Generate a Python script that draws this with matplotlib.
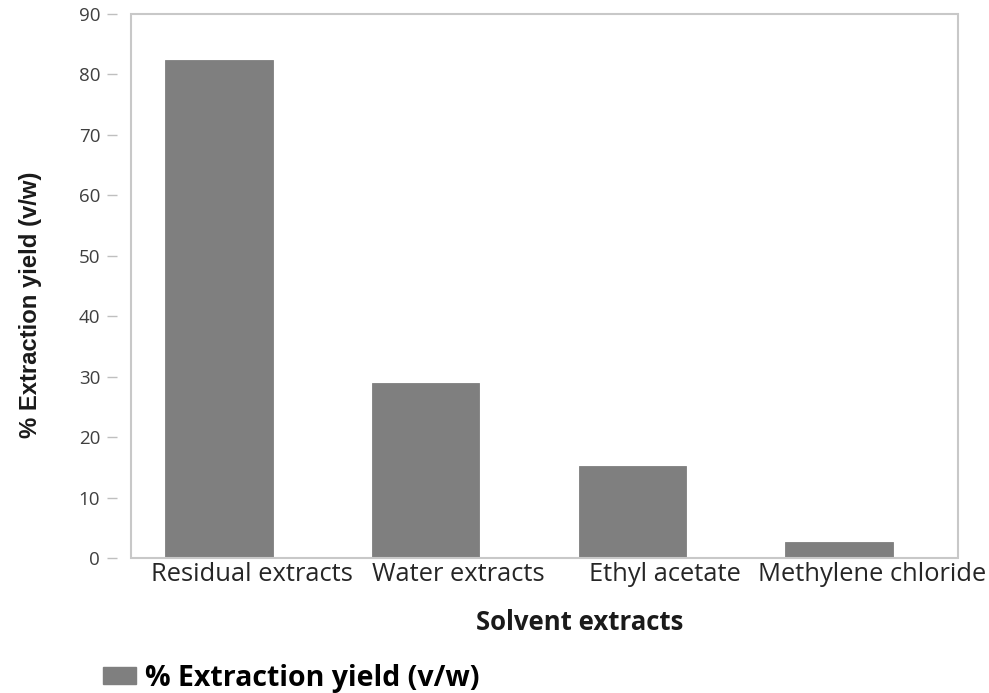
import matplotlib
matplotlib.use("Agg")
import matplotlib.pyplot as plt
from matplotlib.patches import Rectangle, Patch
from matplotlib.transforms import ScaledTranslation

categories = ["Residual extracts", "Water extracts", "Ethyl acetate", "Methylene chloride"]
yield_pct = [82.3, 28.9, 15.2, 2.6]
y_ticks = [0, 10, 20, 30, 40, 50, 60, 70, 80, 90]
series_name = "% Extraction yield (v/w)"

BAR_GRAY = "#7f7f7f"

fig = plt.figure(figsize=(9.89, 6.93), dpi=100)
ax = fig.add_axes([0.1325, 0.1948, 0.8362, 0.7857])

x = range(len(categories))
ax.bar(x, yield_pct, width=0.52, color=BAR_GRAY, edgecolor=BAR_GRAY, linewidth=0.6, zorder=2)

# y ticks sit apart from the frame: the left spine is pushed outward and hidden,
# and the plot frame is drawn as a separate rectangle
for s in ax.spines.values():
    s.set_visible(False)
ax.spines["left"].set_visible(True)
ax.spines["left"].set_position(("outward", 10))
ax.spines["left"].set_color("none")
ax.add_patch(Rectangle((0, 0), 1, 1, transform=ax.transAxes, fill=False,
                       edgecolor="#c8c8c8", linewidth=1.5, zorder=3, clip_on=False))

ax.set_xlim(-0.425, 3.575)
ax.set_ylim(0, 90)
ax.set_yticks(y_ticks)
ax.set_xticks(list(x))
ax.tick_params(axis="y", length=7.2, width=1, color="#bfbfbf", pad=5,
               labelsize=13.5, labelcolor="#3f3f3f", labelfontfamily="Open Sans")
ax.tick_params(axis="x", length=0, pad=3)
ax.set_xticklabels(categories, fontfamily="Open Sans", fontsize=18.4, color="#262626")
# category labels sit slightly right of the bar centres
shift = ScaledTranslation(0.33, 0, fig.dpi_scale_trans)
for lab in ax.get_xticklabels():
    lab.set_transform(lab.get_transform() + shift)

ax.set_ylabel(series_name, fontfamily="Liberation Sans", fontweight="bold",
              fontsize=17.2, color="#1a1a1a")
ax.yaxis.set_label_coords(-0.1076, 0.465)
ax.set_xlabel("Solvent extracts", fontfamily="Open Sans", fontweight="bold",
              fontsize=18.5, color="#1a1a1a", va="center")
ax.xaxis.set_label_coords(0.543, -0.1176)

handle = Patch(facecolor=BAR_GRAY, edgecolor=BAR_GRAY)
fig.legend([handle], [series_name], loc="center left", bbox_to_anchor=(0.1041, 0.0216),
           frameon=False, borderpad=0, borderaxespad=0,
           handlelength=1.16, handleheight=0.53, handletextpad=0.31,
           prop={"family": "Open Sans", "weight": "bold", "size": 20.5})

fig.savefig("out.png", dpi=100, facecolor="white")
